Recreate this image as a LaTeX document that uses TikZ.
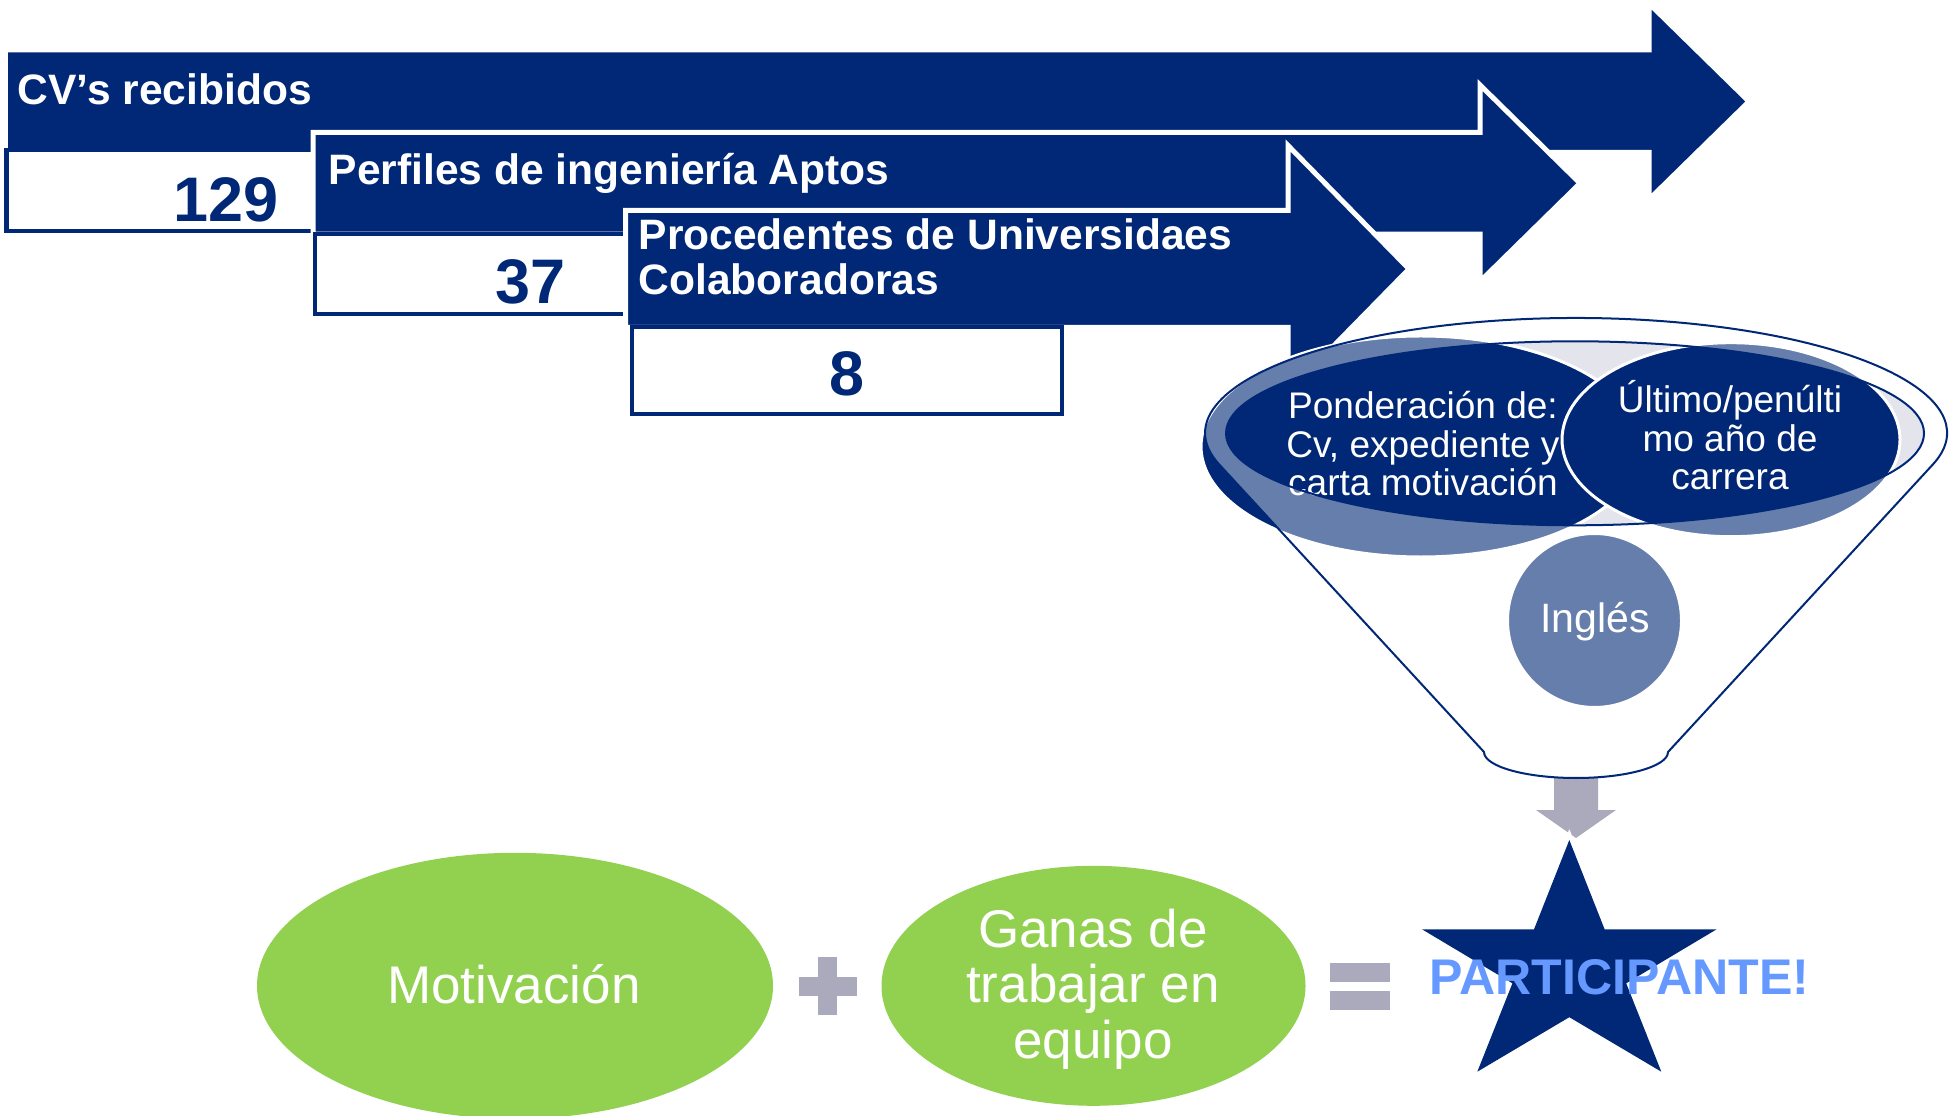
\documentclass[tikz,border=0pt]{standalone}
\usepackage{fontspec}
\setmainfont{Liberation Sans}
\definecolor{navy}{RGB}{0,40,118}
\definecolor{lgray}{RGB}{228,228,236}
\definecolor{gsign}{RGB}{170,170,188}
\definecolor{lgreen}{RGB}{146,208,80}
\definecolor{pblue}{RGB}{102,153,255}
\begin{document}
\begin{tikzpicture}[x=0.01cm,y=-0.01cm,
  arr/.style={fill=navy, draw=white, line width=1.42pt, line join=miter},
  numbox/.style={fill=white, draw=navy, line width=1.14pt},
  atext/.style={text=white, font=\fontsize{12.1pt}{12.8pt}\selectfont\bfseries, inner sep=0pt},
  num/.style={text=navy, font=\fontsize{17.9pt}{20pt}\selectfont\bfseries, inner sep=0pt},
  ftext/.style={text=white, font=\fontsize{10.53pt}{11pt}\selectfont, inner sep=0pt, align=center},
  gtext/.style={text=white, font=\fontsize{15.08pt}{15.79pt}\selectfont, inner sep=0pt, align=center},
  circ/.style={fill=navy, draw=white, line width=0.85pt},
  fline/.style={draw=navy, line width=0.57pt}]
\useasboundingbox (0,0) rectangle (1958,1116);
\def\funnelpath{(1932.8,464.5) arc[start angle=15.9, end angle=-195.9, x radius=371, y radius=115] -- (1484,752) arc[start angle=180, end angle=0, x radius=92, y radius=26] -- cycle}
\def\innerell{(1575,433.3) ellipse [x radius=349, y radius=92]}
% top arrows and boxes
\draw[arr] (5.5,50) -- (1649,50) -- (1649,3.5) -- (1749,101.5) -- (1649,199.5) -- (1649,152.5) -- (5.5,152.5) -- cycle;
\draw[numbox] (6.5,150) rectangle (313,231.5);
\draw[arr] (313,132.5) -- (1480,132.5) -- (1480,85) -- (1580,183.3) -- (1480,281.5) -- (1480,234.2) -- (313,234.2) -- cycle;
\draw[numbox] (314.5,234) rectangle (625,314.5);
\draw[arr] (625.5,210.5) -- (1288,210.5) -- (1288,145.5) -- (1409,269) -- (1288,392.5) -- (1288,327.5) -- (625.5,327.5) -- cycle;
\draw[numbox] (632,327.5) rectangle (1062,414);
\node[atext, anchor=base west] (t1) at (17,105) {CV’s recibidos};
\node[atext, anchor=base west] (t2) at (328,185) {Perfiles de ingeniería Aptos};
\node[atext, anchor=base west, align=left] (t3) at (638,295) {Procedentes de Universidaes\\Colaboradoras};
\node[num, anchor=base east] (n1) at (279,221.7) {129};
\node[num, anchor=base east] (n2) at (566,303.3) {37};
\node[num, anchor=base] (n3) at (847,396) {8};
% gray arrow
\fill[gsign] (1554,770) -- (1598,770) -- (1598,810) -- (1616,810) -- (1576,838) -- (1536,810) -- (1554,810) -- cycle;
% funnel
\fill[white] \funnelpath;
\fill[lgray] \innerell;
\draw[circ] (1421,446.5) ellipse [x radius=220, y radius=110.5];
\node[ftext, anchor=base] (pond) at (1423,496) {Ponderación de:\\Cv, expediente y\\carta motivación};
\draw[circ] (1731,439.7) ellipse [x radius=169, y radius=97];
\node[ftext, anchor=base] (ult) at (1730,490) {Último/penúlti\\mo año de\\carrera};
\draw[circ] (1594.5,620.5) circle [radius=87];
\fill[white, fill opacity=0.4, even odd rule] \funnelpath \innerell;
\node[text=white, font=\fontsize{11.67pt}{12pt}\selectfont, inner sep=0pt, anchor=base] (ing) at (1595,633) {Inglés};
\draw[fline] \funnelpath;
\draw[fline] \innerell;
% star
\draw[white, line width=2.28pt, line join=miter, miter limit=10] (1569.3,840) -- (1604.6,929.3) -- (1716.6,929.3) -- (1626.2,983.3) -- (1661.3,1071.7) -- (1569.3,1017.2) -- (1477.3,1071.7) -- (1512.4,983.3) -- (1422,929.3) -- (1534,929.3) -- cycle;
\fill[navy] (1569.3,840) -- (1604.6,929.3) -- (1716.6,929.3) -- (1626.2,983.3) -- (1661.3,1071.7) -- (1569.3,1017.2) -- (1477.3,1071.7) -- (1512.4,983.3) -- (1422,929.3) -- (1534,929.3) -- cycle;
\node[text=pblue, font=\fontsize{14.25pt}{15pt}\selectfont\bfseries, inner sep=0pt, anchor=base west] (part) at (1429,994) {PARTICIPANTE!};
% bottom equation
\fill[lgreen] (515,985.8) ellipse [x radius=258, y radius=133];
\node[gtext, anchor=base] (mot) at (514,1003) {Motivación};
\fill[gsign] (798.5,976.5) rectangle (856.5,995.5);
\fill[gsign] (818,957) rectangle (837,1015);
\fill[lgreen] (1093.5,985.8) ellipse [x radius=212, y radius=120];
\node[gtext, anchor=base] (ganas) at (1093,1058.3) {Ganas de\\trabajar en\\equipo};
\fill[gsign] (1330,962.7) rectangle (1390,981.7);
\fill[gsign] (1330,991) rectangle (1390,1010);
\end{tikzpicture}
\end{document}
